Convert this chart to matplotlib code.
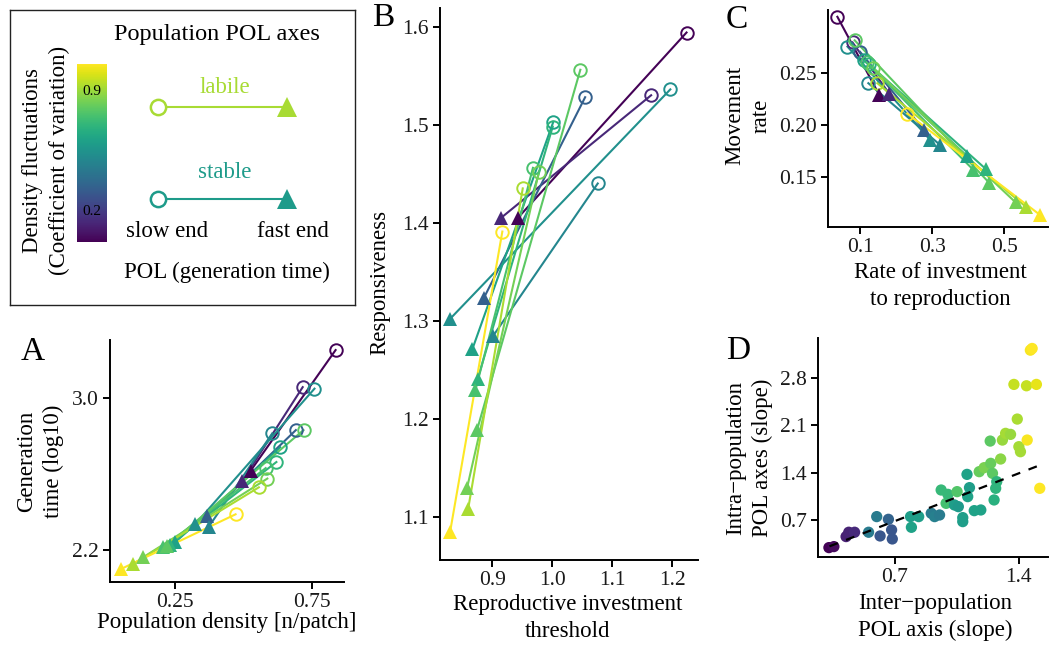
import matplotlib.pyplot as plt
import matplotlib as mpl
from matplotlib.colors import Normalize

plt.rcParams['font.family'] = ['Liberation Serif', 'DejaVu Serif']
plt.rcParams['font.size'] = 16.5
plt.rcParams['axes.linewidth'] = 1.4

# colour value (CV of density) for each population
cv_pop = [0.03, 0.14, 0.34, 0.54, 0.50, 0.62, 0.70, 0.76, 0.80, 0.84, 0.93, 1.06]

# panel A: population density vs generation time
a_slow_x = [0.836, 0.716, 0.691, 0.759, 0.605, 0.634, 0.620, 0.581, 0.719, 0.587, 0.556, 0.471]
a_slow_y = [3.252, 3.057, 2.831, 3.049, 2.814, 2.741, 2.663, 2.631, 2.831, 2.576, 2.530, 2.388]
a_fast_x = [0.526, 0.495, 0.366, 0.324, 0.373, 0.250, 0.232, 0.207, 0.220, 0.134, 0.097, 0.054]
a_fast_y = [2.617, 2.562, 2.379, 2.336, 2.322, 2.240, 2.228, 2.214, 2.220, 2.162, 2.127, 2.101]

# panel B: reproductive investment threshold vs responsiveness
b_slow_x = [1.224, 1.165, 1.055, 1.197, 1.076, 1.002, 1.001, 0.968, 1.047, 0.978, 0.951, 0.917]
b_slow_y = [1.594, 1.530, 1.528, 1.536, 1.440, 1.503, 1.498, 1.456, 1.556, 1.452, 1.435, 1.391]
b_fast_x = [0.943, 0.915, 0.886, 0.830, 0.901, 0.867, 0.876, 0.872, 0.875, 0.858, 0.860, 0.830]
b_fast_y = [1.405, 1.405, 1.323, 1.302, 1.284, 1.271, 1.241, 1.229, 1.189, 1.129, 1.108, 1.085]

# panel C: rate of investment vs movement rate
c_slow_x = [0.037, 0.079, 0.100, 0.065, 0.123, 0.110, 0.125, 0.118, 0.085, 0.135, 0.148, 0.231]
c_slow_y = [0.3035, 0.279, 0.270, 0.275, 0.240, 0.262, 0.258, 0.260, 0.281, 0.255, 0.240, 0.211]
c_fast_x = [0.153, 0.181, 0.278, 0.294, 0.322, 0.398, 0.449, 0.415, 0.458, 0.532, 0.560, 0.600]
c_fast_y = [0.229, 0.230, 0.195, 0.186, 0.181, 0.170, 0.158, 0.157, 0.145, 0.126, 0.122, 0.114]

# panel D: inter vs intra population slopes
d_x = [0.327, 0.355, 0.424, 0.439, 0.472, 0.551, 0.597, 0.616, 0.663, 0.681, 0.685,
       0.788, 0.793, 0.834, 0.905, 0.924, 0.952, 0.961, 0.989, 0.999, 1.051,
       1.036, 1.058, 1.083, 1.083, 1.111, 1.121, 1.107, 1.148, 1.185,
       1.176, 1.204, 1.241, 1.238, 1.251, 1.275, 1.269, 1.260, 1.297,
       1.307, 1.325, 1.353, 1.391, 1.400, 1.409,
       1.447, 1.372, 1.443, 1.499, 1.465, 1.475, 1.518]
d_y = [0.291, 0.306, 0.454, 0.518, 0.518, 0.518, 0.749, 0.463, 0.709, 0.552, 0.419,
       0.749, 0.591, 0.749, 0.798, 0.749, 0.773, 1.142, 0.945, 1.078, 1.118,
       0.921, 0.896, 0.734, 0.675, 1.044, 1.177, 1.373, 0.837, 0.847,
       1.413, 1.472, 1.536, 1.865, 1.388, 1.265, 1.167, 0.995, 1.600,
       1.880, 1.979, 1.964, 2.190, 1.782, 1.708,
       1.880, 2.702, 2.682, 2.702, 3.208, 3.233, 1.167]
d_cv = [0.03, 0.05, 0.12, 0.13, 0.15, 0.45, 0.45, 0.30, 0.35, 0.30, 0.30,
        0.60, 0.62, 0.60, 0.45, 0.47, 0.45, 0.72, 0.75, 0.72, 0.78,
        0.60, 0.58, 0.60, 0.60, 0.62, 0.60, 0.62, 0.62, 0.62,
        0.82, 0.85, 0.82, 0.80, 0.80, 0.70, 0.70, 0.68, 0.88,
        0.90, 0.92, 0.90, 0.93, 0.92, 0.92,
        1.05, 0.97, 0.97, 1.02, 1.05, 1.06, 1.06]
fit_x = [0.33, 1.52]
fit_y = [0.31, 1.51]

cmap = mpl.colormaps['viridis']
norm = Normalize(vmin=0.025, vmax=1.06)
tick_col = '#1a1a1a'
LS = 1.35

fig = plt.figure(figsize=(10.5, 6.45), dpi=100)


def style(ax):
    ax.spines['top'].set_visible(False)
    ax.spines['right'].set_visible(False)
    ax.tick_params(direction='out', length=5, width=1.4, colors='black',
                   labelcolor=tick_col, labelsize=15.5, pad=3)


def pol_panel(rect, sx, sy, fx, fy):
    ax = fig.add_axes(rect)
    style(ax)
    for i in range(len(cv_pop)):
        col = cmap(norm(cv_pop[i]))
        ax.plot([sx[i], fx[i]], [sy[i], fy[i]], color=col, lw=1.5, zorder=2)
    for i in range(len(cv_pop)):
        col = cmap(norm(cv_pop[i]))
        ax.plot(sx[i], sy[i], 'o', mfc='none', mec=col, mew=1.4, ms=9, zorder=3, clip_on=False)
        ax.plot(fx[i], fy[i], '^', color=col, ms=10.5, mew=0, zorder=4, clip_on=False)
    return ax


# A
axA = pol_panel([0.1048, 0.0977, 0.2229, 0.3752], a_slow_x, a_slow_y, a_fast_x, a_fast_y)
axA.set_xlim(0.013, 0.867)
axA.set_ylim(2.032, 3.305)
axA.set_xticks([0.25, 0.75])
axA.set_yticks([2.2, 3.0])
axA.set_yticklabels(['2.2', '3.0'])
axA.set_xlabel('Population density [n/patch]', va='center')
axA.xaxis.set_label_coords(0.5, -0.169)
axA.set_ylabel('Generation\ntime (log10)', va='center', ha='center', linespacing=LS)
axA.yaxis.set_label_coords(-0.299, 0.5)

# B
axB = pol_panel([0.4190, 0.1318, 0.2457, 0.8558], b_slow_x, b_slow_y, b_fast_x, b_fast_y)
axB.set_xlim(0.813, 1.243)
axB.set_ylim(1.056, 1.619)
axB.set_xticks([0.9, 1.0, 1.1, 1.2])
axB.set_yticks([1.1, 1.2, 1.3, 1.4, 1.5, 1.6])
axB.set_xticklabels(['0.9', '1.0', '1.1', '1.2'])
axB.set_yticklabels(['1.1', '1.2', '1.3', '1.4', '1.5', '1.6'])
axB.set_xlabel('Reproductive investment\nthreshold', va='center', linespacing=LS)
axB.xaxis.set_label_coords(0.496, -0.105)
axB.set_ylabel('Responsiveness', va='center')
axB.yaxis.set_label_coords(-0.233, 0.502)

# C
axC = pol_panel([0.7886, 0.6481, 0.2095, 0.3364], c_slow_x, c_slow_y, c_fast_x, c_fast_y)
axC.set_xlim(0.011, 0.622)
axC.set_ylim(0.1025, 0.310)
axC.set_xticks([0.1, 0.3, 0.5])
axC.set_yticks([0.15, 0.20, 0.25])
axC.set_yticklabels(['0.15', '0.20', '0.25'])
axC.set_xlabel('Rate of investment\nto reproduction', va='center', linespacing=LS)
axC.xaxis.set_label_coords(0.509, -0.272)
axC.set_ylabel('Movement\nrate', va='center', linespacing=LS)
axC.yaxis.set_label_coords(-0.364, 0.512)

# D
axD = fig.add_axes([0.7790, 0.1364, 0.2190, 0.3395])
style(axD)
axD.scatter(d_x, d_y, c=d_cv, cmap=cmap, norm=norm, s=66, linewidths=0, zorder=3, clip_on=False)
axD.plot(fit_x, fit_y, color='black', lw=1.6, ls=(0, (4, 4)), zorder=4)
axD.set_xlim(0.265, 1.564)
axD.set_ylim(0.152, 3.387)
axD.set_xticks([0.7, 1.4])
axD.set_yticks([0.7, 1.4, 2.1, 2.8])
axD.set_xlabel('Inter\u2212population\nPOL axis (slope)', va='center', linespacing=LS)
axD.xaxis.set_label_coords(0.509, -0.274)
axD.set_ylabel('Intra\u2212population\nPOL axes (slope)', va='center', linespacing=LS)
axD.yaxis.set_label_coords(-0.30, 0.452)

# panel letters
for lab, x, y in [('A', 0.0314, 0.4543), ('B', 0.3648, 0.972), ('C', 0.7019, 0.969), ('D', 0.7029, 0.4558)]:
    fig.text(x, y, lab, fontsize=24, ha='center', va='center')

# legend box
axL = fig.add_axes([0.00952, 0.5271, 0.3286, 0.4574])
axL.set_xlim(0, 345)
axL.set_ylim(295, 0)
axL.set_xticks([])
axL.set_yticks([])
for s in axL.spines.values():
    s.set_linewidth(1.0)
    s.set_color('#222222')
axL.text(207, 25, 'Population POL axes', ha='center', va='center', fontsize=17.5)
axL.text(36, 150, 'Density fluctuations\n(Coefficient of variation)', rotation=90,
         ha='center', va='center', linespacing=LS)
for val, lab, yy, ty in [(0.925, 'labile', 97, 77), (0.59, 'stable', 189, 162)]:
    col = cmap(norm(val))
    axL.plot([148, 277], [yy, yy], color=col, lw=1.5)
    axL.plot(148, yy, 'o', mfc='white', mec=col, mew=1.8, ms=11)
    axL.plot(277, yy, '^', color=col, ms=14, mew=0)
    axL.text(215, ty, lab, color=col, ha='center', va='center')
axL.text(157, 221, 'slow end', ha='center', va='center')
axL.text(283, 221, 'fast end', ha='center', va='center')
axL.text(217, 262, 'POL (generation time)', ha='center', va='center')

cax = fig.add_axes([0.0733, 0.6248, 0.0286, 0.2760])
cb = fig.colorbar(mpl.cm.ScalarMappable(norm=norm, cmap=cmap), cax=cax)
cb.outline.set_visible(False)
cb.set_ticks([])
for v in [0.2, 0.9]:
    cax.text(0.5, v, '%.1f' % v, transform=cax.get_yaxis_transform(),
             ha='center', va='center', fontsize=11, color='black')

fig.savefig('out.png', dpi=100)
